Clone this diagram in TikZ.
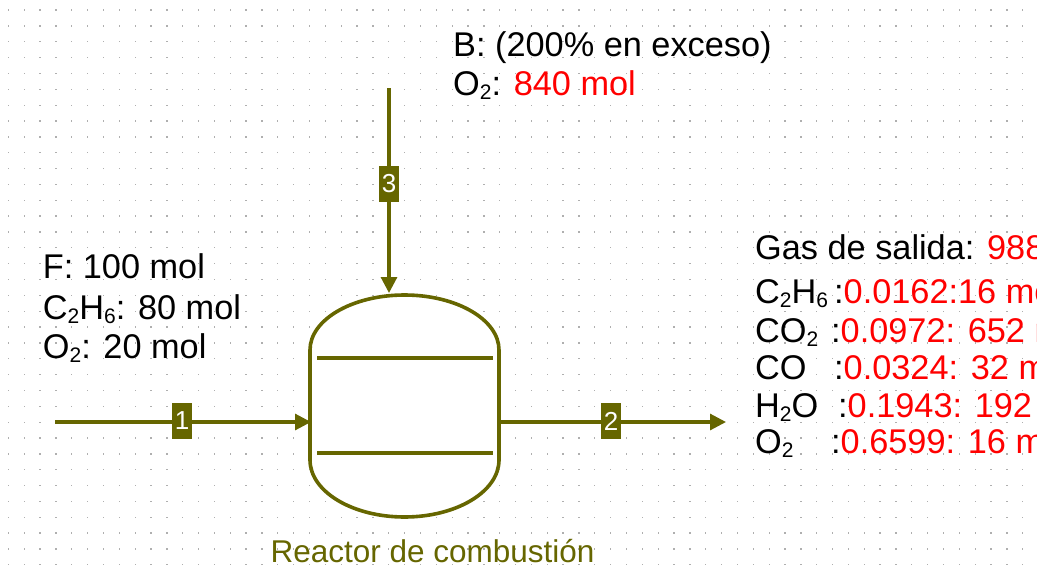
\documentclass[tikz,border=0pt]{standalone}
\usepackage{fontspec}
\setmainfont{Liberation Sans}
\usetikzlibrary{arrows.meta}
\definecolor{rxolive}{RGB}{102,102,0}
\definecolor{rxred}{RGB}{255,0,0}
\definecolor{dotc}{RGB}{175,175,175}
\newcommand\chsub[1]{\raisebox{-0.13em}{\fontsize{21}{21}\selectfont #1}}
\begin{document}
\begin{tikzpicture}[x=1pt,y=-1pt,
  stream/.style={draw=rxolive, line width=3.1pt, -{Triangle[length=16pt,width=16pt]}},
  vessel/.style={draw=rxolive, line width=3.6pt, fill=white},
  tray/.style={draw=rxolive, line width=3.2pt},
  numbox/.style={fill=rxolive, text=white, minimum width=20pt, minimum height=36pt, inner sep=0pt, font=\fontsize{26}{26}\selectfont},
  lbl/.style={anchor=base west, inner sep=0pt, font=\fontsize{34.3}{40}\selectfont},
  captxt/.style={anchor=base, inner sep=0pt, text=rxolive, font=\fontsize{31.5}{36}\selectfont},
]
\useasboundingbox (0,0) rectangle (1037,576);
\clip (0,0) rectangle (1037,576);
% dotted grid
\foreach \i in {0,...,64}{
  \foreach \j in {0,...,35}{
    \fill[dotc] ({8.3+15.85*\i-0.6},{10+15.85*\j-0.6}) rectangle ++(1.3,1.3);
  }
}
% reactor vessel
\draw[vessel] (310,350) .. controls (310,319.6) and (352.3,295) .. (404.5,295)
  .. controls (456.7,295) and (499,319.6) .. (499,350)
  -- (499,460)
  .. controls (499,491.5) and (456.7,517) .. (404.5,517)
  .. controls (352.3,517) and (310,491.5) .. (310,460) -- cycle;
\coordinate (rin) at (311,422);
\coordinate (rout) at (499,422);
\coordinate (rtop) at (389,293);
\coordinate (t1a) at (317,358);
\coordinate (t1b) at (493,358);
\coordinate (t2a) at (317,453);
\coordinate (t2b) at (493,453);
\draw[tray] (t1a) -- (t1b);
\draw[tray] (t2a) -- (t2b);
% streams
\coordinate (s1) at (55,422);
\coordinate (e2) at (726,422);
\coordinate (s3) at (389,88);
\draw[stream] (s1) -- (rin);
\draw[stream] (rout) -- (e2);
\draw[stream] (s3) -- (rtop);
\node[numbox] (n1) at (182,421) {1};
\node[numbox] (n2) at (611,421) {2};
\node[numbox] (n3) at (389,184) {3};
% top text
\node[lbl] (b1) at (453,56.7) {B: (200\% en exceso)};
\node[lbl] (b2) at (453,95) {O\chsub{2}: \textcolor{rxred}{840 mol}};
% left text
\node[lbl] (f1) at (42.7,278) {F: 100 mol};
\node[lbl] (f2) at (42.7,319) {C\chsub{2}H\chsub{6}: 80 mol};
\node[lbl] (f3) at (42.7,358) {O\chsub{2}: 20 mol};
% right text
\node[lbl] (g0) at (755,259) {Gas de salida: \textcolor{rxred}{988 mol}};
\node[lbl] (g1) at (755,303) {C\chsub{2}H\chsub{6}};
\node[lbl] (g1v) at (834,303) {:\textcolor{rxred}{0.0162:16 mol}};
\node[lbl] (g2) at (755,342) {CO\chsub{2}};
\node[lbl] (g2v) at (831,342) {:\textcolor{rxred}{0.0972: 652 mol}};
\node[lbl] (g3) at (755,379) {CO};
\node[lbl] (g3v) at (834,379) {:\textcolor{rxred}{0.0324: 32 mol}};
\node[lbl] (g4) at (755,417) {H\chsub{2}O};
\node[lbl] (g4v) at (838,417) {:\textcolor{rxred}{0.1943: 192 mol}};
\node[lbl] (g5) at (755,453) {O\chsub{2}};
\node[lbl] (g5v) at (831,453) {:\textcolor{rxred}{0.6599: 16 mol}};
% caption
\node[captxt] (capnode) at (432.5,562) {Reactor de combustión};
\end{tikzpicture}
\end{document}
